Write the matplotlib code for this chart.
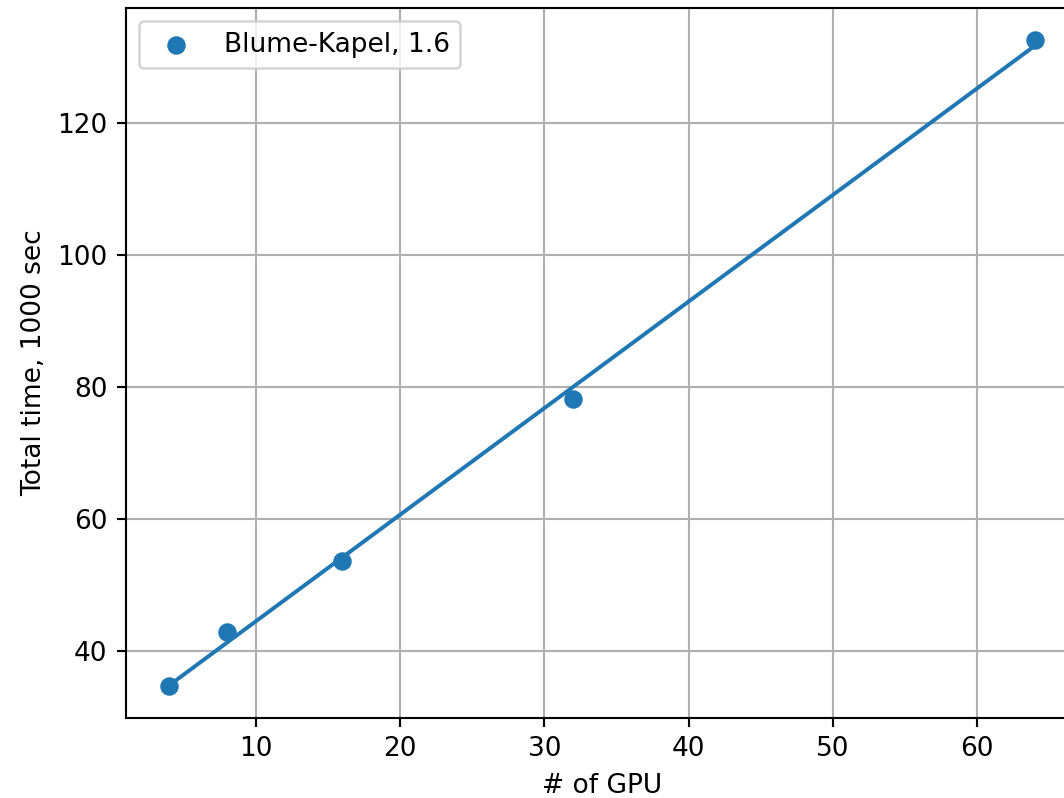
import numpy as np
import matplotlib
matplotlib.use("Agg")
import matplotlib.pyplot as plt

gpus = np.array([4, 8, 16, 32, 64])
total_time = np.array([34.7, 42.8, 53.6, 78.2, 132.5])  # 1000 sec
label = "Blume-Kapel, 1.6"

dpi = 190
fig = plt.figure(figsize=(1064 / dpi, 798 / dpi), dpi=dpi)
# axes runs past the right edge, as in the (cropped) original
ax = fig.add_axes([126 / 1064, 80 / 798, 952 / 1064, 710 / 798])

# linear fit through the measurements
k, b = np.polyfit(gpus, total_time, 1)
ax.scatter(gpus, total_time, label=label)
ax.plot(gpus, k * gpus + b)

ax.set_xlabel("# of GPU")
ax.set_ylabel("Total time, 1000 sec")
ax.grid(True)
ax.legend(loc="upper left")

fig.savefig("out.png", dpi=dpi)
